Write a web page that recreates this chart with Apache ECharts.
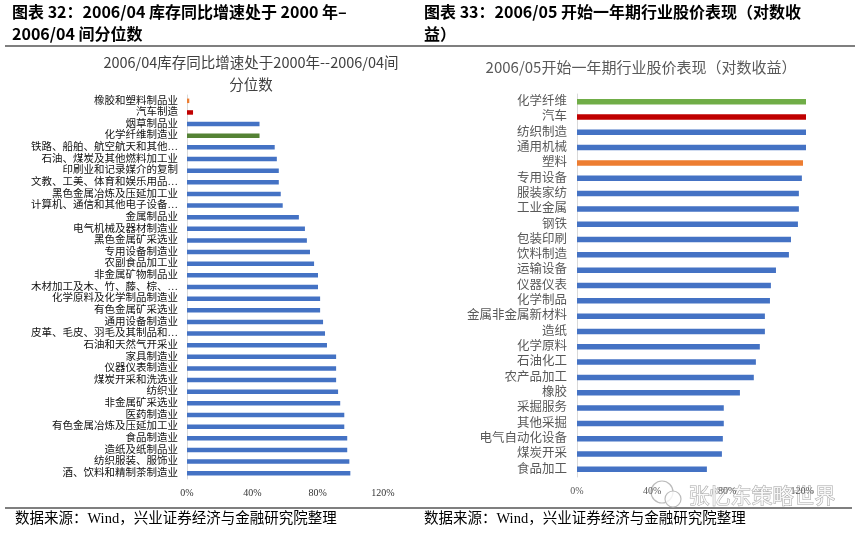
<!DOCTYPE html>
<html>
<head>
<meta charset="utf-8">
<script src="https://cdn.jsdelivr.net/npm/echarts@6/dist/echarts.min.js"></script>
<style>
  html, body { margin: 0; padding: 0; background: #fff; }
  #main { width: 859px; height: 535px; }
</style>
</head>
<body>
<div id="main"></div>
<script>
// 左图：2006/04 库存同比增速分位数
var leftCats = [
    '橡胶和塑料制品业', '汽车制造', '烟草制品业', '化学纤维制造业',
    '铁路、船舶、航空航天和其他…', '石油、煤炭及其他燃料加工业', '印刷业和记录媒介的复制',
    '文教、工美、体育和娱乐用品…', '黑色金属冶炼及压延加工业', '计算机、通信和其他电子设备…',
    '金属制品业', '电气机械及器材制造业', '黑色金属矿采选业', '专用设备制造业',
    '农副食品加工业', '非金属矿物制品业', '木材加工及木、竹、藤、棕、…',
    '化学原料及化学制品制造业', '有色金属矿采选业', '通用设备制造业',
    '皮革、毛皮、羽毛及其制品和…', '石油和天然气开采业', '家具制造业', '仪器仪表制造业',
    '煤炭开采和洗选业', '纺织业', '非金属矿采选业', '医药制造业',
    '有色金属冶炼及压延加工业', '食品制造业', '造纸及纸制品业', '纺织服装、服饰业',
    '酒、饮料和精制茶制造业'
];
var leftVals = [
    1.4, 3.7, 44.4, 44.4, 53.7, 55.0, 56.2, 56.2, 57.4, 58.6,
    68.5, 72.2, 73.4, 75.3, 77.8, 80.2, 80.2, 81.5, 81.5, 83.3,
    84.5, 85.7, 91.3, 91.3, 91.3, 92.5, 93.8, 96.3, 96.3, 98.1,
    98.1, 99.4, 100.0
];
var leftTicks = ['0%', '40%', '80%', '120%'];

// 右图：2006/05 开始一年期行业股价表现（对数收益）
var rightCats = [
    '化学纤维', '汽车', '纺织制造', '通用机械', '塑料', '专用设备', '服装家纺',
    '工业金属', '钢铁', '包装印刷', '饮料制造', '运输设备', '仪器仪表', '化学制品',
    '金属非金属新材料', '造纸', '化学原料', '石油化工', '农产品加工', '橡胶',
    '采掘服务', '其他采掘', '电气自动化设备', '煤炭开采', '食品加工'
];
var rightVals = [
    122, 122, 122, 122, 120.4, 119.8, 118.2, 118.2, 117.7, 114.0,
    112.9, 106.0, 103.3, 102.8, 100.1, 100.1, 97.4, 95.3, 94.2, 86.8,
    78.2, 78.2, 77.7, 77.2, 69.2
];
var rightTicks = ['0%', '40%', '80%', '120%'];

// 高亮颜色
var BLUE = '#4472C4';
var leftHighlight = { '橡胶和塑料制品业': '#ED7D31', '汽车制造': '#C00000', '化学纤维制造业': '#548235' };
var rightHighlight = { '化学纤维': '#70AD47', '汽车': '#C00000', '塑料': '#ED7D31' };

function barData(cats, vals, hl) {
    return vals.map(function (v, i) {
        return { value: v, itemStyle: { color: hl[cats[i]] || BLUE } };
    });
}

function tickFormatter(ticks) {
    return function (v) {
        var s = Math.round(v) + '%';
        return ticks.indexOf(s) >= 0 ? s : '';
    };
}

var CJK = '"Liberation Serif", "Noto Sans CJK SC", serif';
var HEAD = '"Noto Sans CJK SC", sans-serif';

var chart = echarts.init(document.getElementById('main'));

chart.setOption({
    animation: false,
    backgroundColor: '#fff',
    title: [
        {
            text: '2006/04库存同比增速处于2000年--2006/04间\n分位数',
            left: 246, top: 46, textAlign: 'center',
            textStyle: { fontSize: 14.5, fontWeight: 'normal', color: '#404040', fontFamily: HEAD, lineHeight: 22, align: 'center' }
        },
        {
            text: '2006/05开始一年期行业股价表现（对数收益）',
            left: 636, top: 55, textAlign: 'center',
            textStyle: { fontSize: 15, fontWeight: 'normal', color: '#595959', fontFamily: HEAD }
        }
    ],
    grid: [
        { left: 187, top: 95, width: 196, height: 384 },
        { left: 577, top: 94, width: 229, height: 383 }
    ],
    xAxis: [
        {
            gridIndex: 0, type: 'value', min: 0, max: 120, interval: 40,
            axisLine: { show: false }, axisTick: { show: false }, splitLine: { show: false },
            axisLabel: { formatter: tickFormatter(leftTicks), fontSize: 10, color: '#333', margin: 9, fontFamily: CJK }
        },
        {
            gridIndex: 1, type: 'value', min: 0, max: 122, interval: 40,
            axisLine: { show: false }, axisTick: { show: false }, splitLine: { show: false },
            axisLabel: { formatter: tickFormatter(rightTicks), fontSize: 10, color: '#595959', margin: 9, fontFamily: CJK }
        }
    ],
    yAxis: [
        {
            gridIndex: 0, type: 'category', inverse: true, data: leftCats,
            axisLine: { lineStyle: { color: '#d9d9d9' } }, axisTick: { show: false },
            axisLabel: { fontSize: 10.5, color: '#111', margin: 9, interval: 0, fontFamily: CJK }
        },
        {
            gridIndex: 1, type: 'category', inverse: true, data: rightCats,
            axisLine: { lineStyle: { color: '#d9d9d9' } }, axisTick: { show: false },
            axisLabel: { fontSize: 12.5, color: '#595959', margin: 10, interval: 0, fontFamily: CJK }
        }
    ],
    series: [
        {
            type: 'bar', xAxisIndex: 0, yAxisIndex: 0, barWidth: 4.5,
            data: barData(leftCats, leftVals, leftHighlight)
        },
        {
            type: 'bar', xAxisIndex: 1, yAxisIndex: 1, barWidth: 5.5,
            data: barData(rightCats, rightVals, rightHighlight)
        }
    ],
    graphic: [
        // 标题
        { type: 'text', left: 12, top: 4, style: { text: '图表 32：2006/04 库存同比增速处于 2000 年–', font: 'bold 16px ' + HEAD, fill: '#000' } },
        { type: 'text', left: 12, top: 26, style: { text: '2006/04 间分位数', font: 'bold 16px ' + HEAD, fill: '#000' } },
        { type: 'text', left: 424, top: 4, style: { text: '图表 33：2006/05 开始一年期行业股价表现（对数收', font: 'bold 16px ' + HEAD, fill: '#000' } },
        { type: 'text', left: 424, top: 26, style: { text: '益）', font: 'bold 16px ' + HEAD, fill: '#000' } },
        { type: 'line', shape: { x1: 5, y1: 46, x2: 855, y2: 46 }, style: { stroke: '#000', lineWidth: 1.2 } },
        // 来源
        { type: 'line', shape: { x1: 5, y1: 508, x2: 852, y2: 508 }, style: { stroke: '#000', lineWidth: 1.2 } },
        { type: 'text', left: 15, top: 512, style: { text: '数据来源：Wind，兴业证券经济与金融研究院整理', font: '14.5px ' + CJK, fill: '#000' } },
        { type: 'text', left: 424, top: 512, style: { text: '数据来源：Wind，兴业证券经济与金融研究院整理', font: '14.5px ' + CJK, fill: '#000' } },
        // 水印
        { type: 'circle', shape: { cx: 662, cy: 492, r: 11 }, style: { fill: 'rgba(255,255,255,0.6)', stroke: '#bbb', lineWidth: 1.2 } },
        { type: 'circle', shape: { cx: 673, cy: 499, r: 8 }, style: { fill: 'rgba(255,255,255,0.8)', stroke: '#bbb', lineWidth: 1.2 } },
        { type: 'text', left: 688, top: 484, style: { text: '张忆东策略世界', font: '21px ' + HEAD, fill: 'rgba(255,255,255,0.85)', stroke: '#a6a6a6', lineWidth: 1 } }
    ]
});
</script>
</body>
</html>
